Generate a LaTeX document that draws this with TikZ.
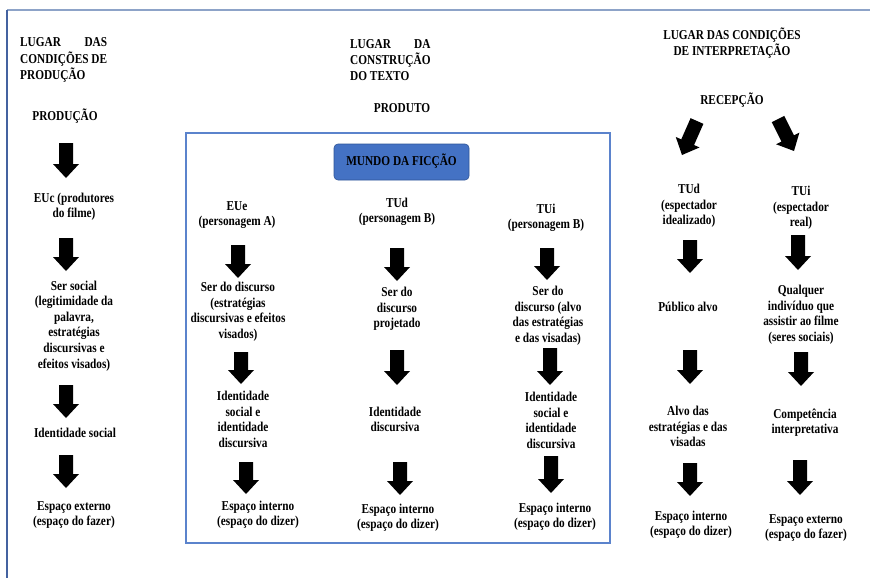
\documentclass[tikz,border=0pt]{standalone}
\usepackage{fontspec}
\setmainfont{Liberation Serif}
\usetikzlibrary{calc}
\definecolor{frameTop}{HTML}{8DA3C8}
\definecolor{frameLeft}{HTML}{4462A0}
\definecolor{boxc}{HTML}{5B83CC}
\definecolor{mundofill}{HTML}{4472C4}
\definecolor{mundoline}{HTML}{2F5597}
\newcommand{\tl}[2][c]{\scalebox{1}[1.2]{\begin{tabular}{@{}#1@{}}#2\end{tabular}}}
\newcommand{\blk}[2]{%
  \path ($(#2)!14pt!(#1)$) coordinate (hh);
  \fill[black] ($(#1)!7pt!90:(#2)$) -- ($(hh)!7pt!90:(#2)$) -- ($(hh)!13pt!90:(#2)$) -- (#2)
    -- ($(hh)!13pt!-90:(#2)$) -- ($(hh)!7pt!-90:(#2)$) -- ($(#1)!7pt!-90:(#2)$) -- cycle;}
\tikzset{
  txt/.style={inner sep=0pt, font=\fontsize{11.3}{13}\selectfont\bfseries},
  framel/.style={line width=1.3pt},
  innerbox/.style={draw=boxc, line width=1.1pt},
  mundobox/.style={draw=mundoline, line width=0.6pt, fill=mundofill, rounded corners=4pt,
    minimum width=135pt, minimum height=36pt, inner sep=0pt, font=\fontsize{11.3}{13}\selectfont\bfseries}
}
\begin{document}
\begin{tikzpicture}[x=1pt,y=-1pt]
\useasboundingbox (0,0) rectangle (870,578);
\fill[white] (0,0) rectangle (870,578);
% frame
\draw[framel, frameTop] (7,10) -- (870,10);
\draw[framel, frameLeft] (7,10) -- (7,578);
% inner box
\draw[innerbox] (186,133) rectangle (610,543);
\node[mundobox] (mundo) at (401.5,162) {\tl{MUNDO DA FICÇÃO}};

% ---------- left column ----------
\node[txt, anchor=west] (hdrL) at (20,60) {\tl[l]{LUGAR\hfill DAS\\CONDIÇÕES DE\\PRODUÇÃO}};
\node[txt] (prod) at (65,117) {\tl{PRODUÇÃO}};
\node[txt] (euc) at (74,207) {\tl{EUc (produtores\\do filme)}};
\node[txt] (sers) at (74,326) {\tl{Ser social\\(legitimidade da\\palavra,\\estratégias\\discursivas e\\efeitos visados)}};
\node[txt] (ids) at (75,434) {\tl{Identidade social}};
\node[txt] (espL) at (74,515) {\tl{Espaço externo\\(espaço do fazer)}};
\coordinate (L1a) at (66,143); \coordinate (L1b) at (66,178);
\coordinate (L2a) at (66,238); \coordinate (L2b) at (66,271);
\coordinate (L3a) at (66,385); \coordinate (L3b) at (66,418);
\coordinate (L4a) at (66,455); \coordinate (L4b) at (66,488);
\blk{L1a}{L1b}\blk{L2a}{L2b}\blk{L3a}{L3b}\blk{L4a}{L4b}

% ---------- middle header ----------
\node[txt, anchor=west] (hdrM) at (350,61) {\tl[l]{LUGAR\hfill DA\\CONSTRUÇÃO\\DO TEXTO}};
\node[txt] (produto) at (402,109) {\tl{PRODUTO}};

% ---------- column A ----------
\node[txt] (eue) at (237,215) {\tl{EUe\\(personagem A)}};
\node[txt] (serA) at (238,312) {\tl{Ser do discurso\\(estratégias\\discursivas e efeitos\\visados)}};
\node[txt] (idA) at (243,421) {\tl{Identidade\\social e\\identidade\\discursiva}};
\node[txt] (espA) at (258,515) {\tl{Espaço interno\\(espaço do dizer)}};
\coordinate (A1a) at (238,245); \coordinate (A1b) at (238,278);
\coordinate (A2a) at (241,352); \coordinate (A2b) at (241,384);
\coordinate (A3a) at (246,462); \coordinate (A3b) at (246,494);
\blk{A1a}{A1b}\blk{A2a}{A2b}\blk{A3a}{A3b}

% ---------- column B ----------
\node[txt] (tud) at (397,212) {\tl{TUd\\(personagem B)}};
\node[txt] (serB) at (397,309) {\tl{Ser do\\discurso\\projetado}};
\node[txt] (idB) at (395,421) {\tl{Identidade\\discursiva}};
\node[txt] (espB) at (398,518) {\tl{Espaço interno\\(espaço do dizer)}};
\coordinate (B1a) at (397,248); \coordinate (B1b) at (397,281);
\coordinate (B2a) at (397,350); \coordinate (B2b) at (397,385);
\coordinate (B3a) at (400,462); \coordinate (B3b) at (400,495);
\blk{B1a}{B1b}\blk{B2a}{B2b}\blk{B3a}{B3b}

% ---------- column C ----------
\node[txt] (tui) at (546,218) {\tl{TUi\\(personagem B)}};
\node[txt] (serC) at (548,316) {\tl{Ser do\\discurso (alvo\\das estratégias\\e das visadas)}};
\node[txt] (idC) at (551,422) {\tl{Identidade\\social e\\identidade\\discursiva}};
\node[txt] (espC) at (555,517) {\tl{Espaço interno\\(espaço do dizer)}};
\coordinate (C1a) at (547,248); \coordinate (C1b) at (547,280);
\coordinate (C2a) at (550,348); \coordinate (C2b) at (550,385);
\coordinate (C3a) at (551,456); \coordinate (C3b) at (551,493);
\blk{C1a}{C1b}\blk{C2a}{C2b}\blk{C3a}{C3b}

% ---------- right header ----------
\node[txt] (hdrR) at (732,44) {\tl{LUGAR DAS CONDIÇÕES\\DE INTERPRETAÇÃO}};
\node[txt] (recep) at (732,101) {\tl{RECEPÇÃO}};
\coordinate (D1a) at (697,121); \coordinate (D1b) at (682,155);
\coordinate (D2a) at (778,119); \coordinate (D2b) at (794,151);
\blk{D1a}{D1b}\blk{D2a}{D2b}

% ---------- TUd (spectator) column ----------
\node[txt] (tudR) at (689,206) {\tl{TUd\\(espectador\\idealizado)}};
\node[txt] (pub) at (688,308) {\tl{Público alvo}};
\node[txt] (alvo) at (688,428) {\tl{Alvo das\\estratégias e das\\visadas}};
\node[txt] (espR1) at (691,525) {\tl{Espaço interno\\(espaço do dizer)}};
\coordinate (R1a) at (690,240); \coordinate (R1b) at (690,273);
\coordinate (R2a) at (690,350); \coordinate (R2b) at (690,384);
\coordinate (R3a) at (690,463); \coordinate (R3b) at (690,496);
\blk{R1a}{R1b}\blk{R2a}{R2b}\blk{R3a}{R3b}

% ---------- TUi (spectator) column ----------
\node[txt] (tuiR) at (801,208) {\tl{TUi\\(espectador\\real)}};
\node[txt] (qual) at (801,315) {\tl{Qualquer\\indivíduo que\\assistir ao filme\\(seres sociais)}};
\node[txt] (comp) at (805,423) {\tl{Competência\\interpretativa}};
\node[txt] (espR2) at (806,528) {\tl{Espaço externo\\(espaço do fazer)}};
\coordinate (S1a) at (798,235); \coordinate (S1b) at (798,270);
\coordinate (S2a) at (801,352); \coordinate (S2b) at (801,386);
\coordinate (S3a) at (800,460); \coordinate (S3b) at (800,495);
\blk{S1a}{S1b}\blk{S2a}{S2b}\blk{S3a}{S3b}
\end{tikzpicture}
\end{document}
